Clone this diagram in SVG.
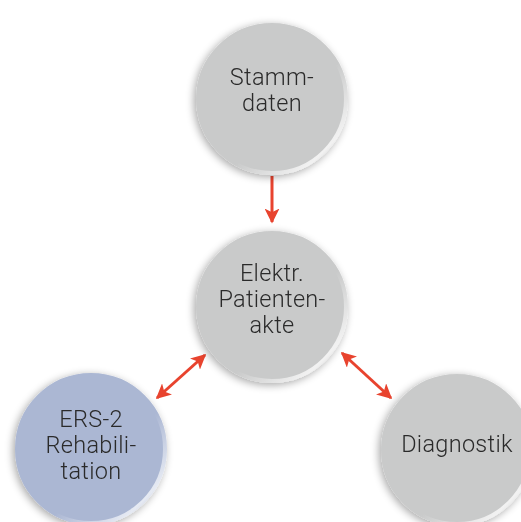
<svg xmlns="http://www.w3.org/2000/svg" width="521" height="522" viewBox="0 0 521 522">
<defs>
<filter id="sh" x="-30%" y="-30%" width="160%" height="160%">
<feGaussianBlur in="SourceAlpha" stdDeviation="4"/>
<feOffset dx="-2" dy="2" result="b"/>
<feComponentTransfer><feFuncA type="linear" slope="0.35"/></feComponentTransfer>
<feMerge><feMergeNode/><feMergeNode in="SourceGraphic"/></feMerge>
</filter>
<linearGradient id="rim" x1="0" y1="0" x2="1" y2="1">
<stop offset="0" stop-color="#c9caca"/>
<stop offset="0.6" stop-color="#c9caca"/>
<stop offset="0.85" stop-color="#f2f2f2"/>
<stop offset="1" stop-color="#a9aaaa"/>
</linearGradient>
<linearGradient id="rimb" x1="0" y1="0" x2="1" y2="1">
<stop offset="0" stop-color="#abb7d3"/>
<stop offset="0.6" stop-color="#abb7d3"/>
<stop offset="0.85" stop-color="#e6eaf3"/>
<stop offset="1" stop-color="#8f9bb8"/>
</linearGradient>
<marker id="ah" viewBox="0 0 10 10" refX="9" refY="5" markerWidth="5" markerHeight="5" orient="auto-start-reverse" markerUnits="strokeWidth">
<path d="M0,0 L10,5 L0,10 L2.5,5 Z" fill="#e8432e"/>
</marker>
</defs>
<style>
.g{fill:#c9caca;stroke:url(#rim);stroke-width:4}
.b{fill:#abb7d3;stroke:url(#rimb);stroke-width:4}
.t{font-family:Roboto,"Liberation Sans",sans-serif;font-weight:300;font-size:23.5px;letter-spacing:0.3px;fill:#2b2b2b;text-anchor:middle}
.c{stroke:#e8432e;stroke-width:3;fill:none}
</style>
<rect width="521" height="522" fill="#ffffff"/>
<g id="connectors">
<line class="c" x1="272" y1="176" x2="272" y2="222" marker-end="url(#ah)"/>
<line class="c" x1="157" y1="398" x2="205" y2="355" marker-start="url(#ah)" marker-end="url(#ah)"/>
<line class="c" x1="342" y1="353" x2="391" y2="398" marker-start="url(#ah)" marker-end="url(#ah)"/>
</g>
<g id="stammdaten" filter="url(#sh)">
<circle class="g" cx="272" cy="99" r="74"/>
<text class="t" x="272" y="85">Stamm-</text>
<text class="t" x="272" y="111">daten</text>
</g>
<g id="patientenakte" filter="url(#sh)">
<circle class="g" cx="272" cy="307" r="74"/>
<text class="t" x="272" y="281">Elektr.</text>
<text class="t" x="272" y="307">Patienten-</text>
<text class="t" x="272" y="333">akte</text>
</g>
<g id="ers2" filter="url(#sh)">
<circle class="b" cx="91" cy="449" r="74"/>
<text class="t" x="91" y="427">ERS-2</text>
<text class="t" x="91" y="453">Rehabili-</text>
<text class="t" x="91" y="479">tation</text>
</g>
<g id="diagnostik" filter="url(#sh)">
<circle class="g" cx="457" cy="450" r="74"/>
<text class="t" x="457" y="452">Diagnostik</text>
</g>
</svg>
